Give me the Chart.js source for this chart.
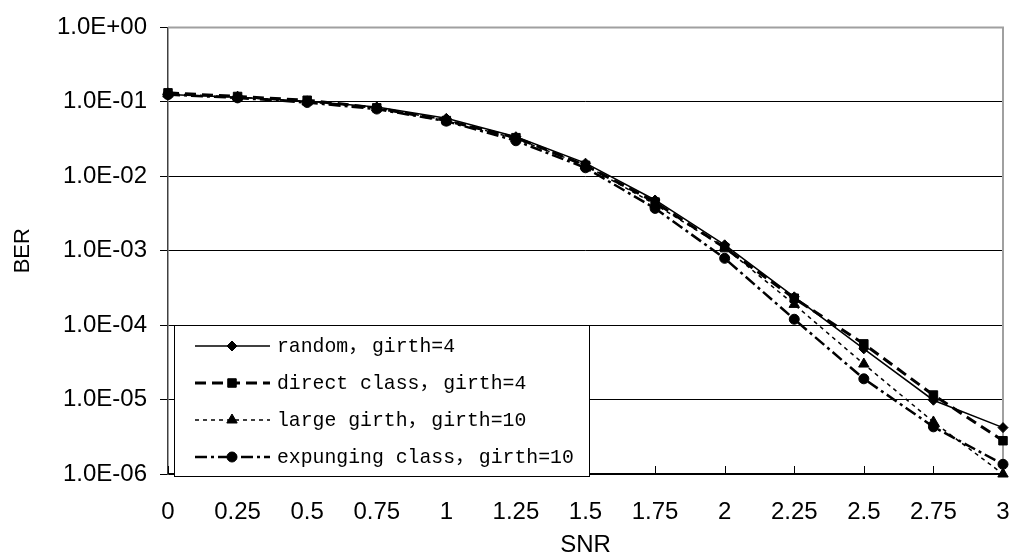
<!DOCTYPE html>
<html>
<head>
<meta charset="utf-8">
<script src="https://cdn.jsdelivr.net/npm/chart.js@4.4.1/dist/chart.umd.min.js"></script>
<style>
  html, body { margin: 0; padding: 0; background: #fff; }
  canvas { display: block; }
</style>
</head>
<body>
<canvas id="ber-chart" width="1010" height="555"></canvas>
<script>
// --- data ---
const snrLabels = ['0', '0.25', '0.5', '0.75', '1', '1.25', '1.5', '1.75', '2', '2.25', '2.5', '2.75', '3'];

const berRandom    = [0.125, 0.115, 0.102, 0.085, 0.060, 0.034, 0.0150, 0.0048, 0.00120, 0.000240, 0.0000480, 0.0000098, 0.0000042];
const berDirect    = [0.132, 0.118, 0.105, 0.083, 0.056, 0.033, 0.0140, 0.0045, 0.00110, 0.000230, 0.0000560, 0.0000115, 0.0000028];
const berLarge     = [0.128, 0.116, 0.100, 0.083, 0.057, 0.032, 0.0140, 0.0042, 0.00110, 0.000190, 0.0000300, 0.0000050, 0.0000010];
const berExpunging = [0.125, 0.113, 0.098, 0.080, 0.055, 0.030, 0.0130, 0.0037, 0.00079, 0.000120, 0.0000190, 0.0000043, 0.00000135];

const seriesLabels = ['random，girth=4', 'direct class，girth=4', 'large girth，girth=10', 'expunging class，girth=10'];

const yTickValues = [1, 1e-1, 1e-2, 1e-3, 1e-4, 1e-5, 1e-6];
const yTickLabels = ['1.0E+00', '1.0E-01', '1.0E-02', '1.0E-03', '1.0E-04', '1.0E-05', '1.0E-06'];

const tickFont = { family: "'Liberation Sans', Arial, sans-serif", size: 24 };
const legendFont = "19.8px 'Liberation Mono', 'Noto Sans CJK SC', monospace";

// gray frame on top/right + small upward ticks on the category axis
const plotFrame = {
    id: 'plotFrame',
    beforeDatasetsDraw(chart) {
        const { ctx, chartArea: a } = chart;
        const xs = chart.scales.x;
        ctx.save();
        ctx.strokeStyle = '#a0a0a0';
        ctx.lineWidth = 2;
        ctx.beginPath();
        ctx.moveTo(a.left, a.top);
        ctx.lineTo(a.right, a.top);
        ctx.lineTo(a.right, a.bottom);
        ctx.stroke();

        ctx.strokeStyle = '#000';
        ctx.lineWidth = 1;
        xs.ticks.forEach((t, i) => {
            const px = Math.round(xs.getPixelForTick(i)) + 0.5;
            ctx.beginPath();
            ctx.moveTo(px, a.bottom);
            ctx.lineTo(px, a.bottom - 8);
            ctx.stroke();
        });
        ctx.restore();
    }
};

// draws a label; the full-width comma takes two character cells like in the original font
function drawLegendText(ctx, text, x, y) {
    const cell = ctx.measureText('0').width;
    const parts = text.split('，');
    ctx.fillText(parts[0], x, y);
    let cx = x + ctx.measureText(parts[0]).width;
    ctx.fillText('，', cx, y);
    cx += cell * 2;
    if (parts[1]) ctx.fillText(parts[1], cx, y);
}

// legend drawn as a boxed panel inside the plot, bottom-left
const boxLegend = {
    id: 'boxLegend',
    afterDatasetsDraw(chart) {
        const { ctx, chartArea: a } = chart;
        const ys = chart.scales.y;
        const x0 = a.left + 6;
        const y0 = Math.round(ys.getPixelForValue(1e-4));
        const w = 415;
        const h = a.bottom + 2 - y0;

        ctx.save();
        ctx.fillStyle = '#fff';
        ctx.fillRect(x0, y0, w, h);
        ctx.strokeStyle = '#000';
        ctx.lineWidth = 1;
        ctx.strokeRect(x0 + 0.5, y0 + 0.5, w, h);

        ctx.font = legendFont;
        ctx.textBaseline = 'middle';
        chart.data.datasets.forEach((ds, i) => {
            const cy = y0 + 21 + i * 37;
            ctx.strokeStyle = '#000';
            ctx.fillStyle = '#000';
            ctx.lineWidth = ds.borderWidth;
            ctx.setLineDash(ds.borderDash || []);
            ctx.beginPath();
            ctx.moveTo(x0 + 21, cy);
            ctx.lineTo(x0 + 96, cy);
            ctx.stroke();
            ctx.setLineDash([]);
            ctx.lineWidth = 1;
            Chart.helpers.drawPoint(ctx, {
                pointStyle: ds.pointStyle,
                radius: ds.pointRadius,
                rotation: 0,
                borderWidth: 1
            }, x0 + 58, cy);
            drawLegendText(ctx, ds.label, x0 + 103, cy + 1);
        });
        ctx.restore();
    }
};

function makeSeries(label, data, style) {
    return Object.assign({
        label: label,
        data: data,
        borderColor: '#000',
        backgroundColor: '#000',
        pointBackgroundColor: '#000',
        pointBorderColor: '#000',
        pointBorderWidth: 1,
        tension: 0,
        fill: false,
        clip: 12
    }, style);
}

const ctx = document.getElementById('ber-chart').getContext('2d');
new Chart(ctx, {
    type: 'line',
    data: {
        labels: snrLabels,
        datasets: [
            makeSeries(seriesLabels[0], berRandom, { borderWidth: 1.5, pointStyle: 'rectRot', pointRadius: 5 }),
            makeSeries(seriesLabels[1], berDirect, { borderWidth: 3, borderDash: [11, 6], pointStyle: 'rect', pointRadius: 6 }),
            makeSeries(seriesLabels[2], berLarge, { borderWidth: 1.5, borderDash: [4, 4], pointStyle: 'triangle', pointRadius: 6 }),
            makeSeries(seriesLabels[3], berExpunging, { borderWidth: 2.5, borderDash: [12, 4, 3, 4], pointStyle: 'circle', pointRadius: 5 })
        ]
    },
    options: {
        responsive: false,
        animation: false,
        layout: { padding: { top: 25, right: 6, left: 0, bottom: 0 } },
        plugins: {
            legend: { display: false },
            tooltip: { enabled: false }
        },
        scales: {
            x: {
                type: 'category',
                offset: false,
                afterFit: s => {
                    s.height = 81;
                    s.paddingLeft = 0;
                    s.paddingRight = 0;
                },
                grid: { display: true, drawOnChartArea: false, drawTicks: false },
                border: { display: true, color: '#000', width: 1.5 },
                ticks: { color: '#000', font: tickFont, padding: 24, maxRotation: 0, autoSkip: false },
                title: {
                    display: true, text: 'SNR', color: '#000',
                    font: { family: tickFont.family, size: 24, lineHeight: 0.8 },
                    padding: { top: 0, bottom: 0 }
                }
            },
            y: {
                type: 'logarithmic',
                min: 1e-6,
                max: 1,
                afterFit: s => { s.width = 168; },
                afterBuildTicks: s => { s.ticks = yTickValues.map(v => ({ value: v })); },
                grid: {
                    color: c => (c.tick && c.tick.value === 1 ? 'rgba(0,0,0,0)' : '#000'),
                    tickColor: '#000',
                    lineWidth: 1,
                    tickLength: 8
                },
                border: { display: true, color: '#404040', width: 1.5 },
                ticks: {
                    color: '#000',
                    font: tickFont,
                    padding: 13,
                    callback: v => yTickLabels[yTickValues.indexOf(v)]
                },
                title: {
                    display: true, text: 'BER', color: '#000',
                    font: { family: tickFont.family, size: 22 },
                    padding: { top: 10, bottom: 0 }
                }
            }
        }
    },
    plugins: [plotFrame, boxLegend]
});
</script>
</body>
</html>
